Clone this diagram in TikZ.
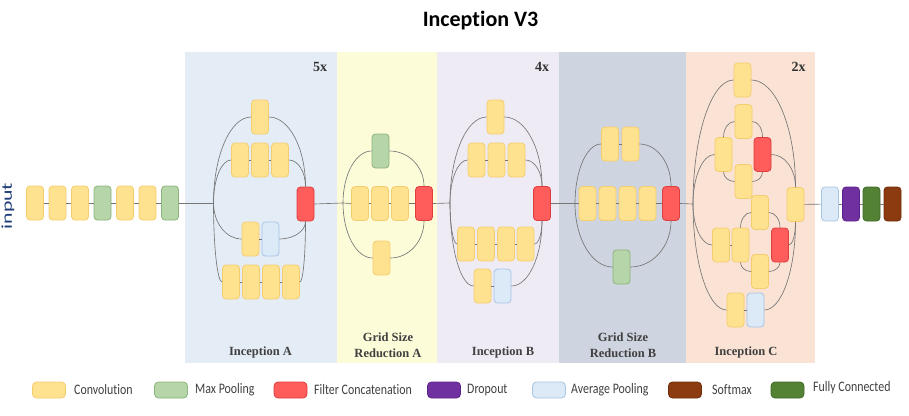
\documentclass[tikz,border=0pt]{standalone}
\usepackage{fontspec}
\setmainfont{Carlito}[Ligatures=NoCommon]
\newfontfamily\serifF{Liberation Serif}
\usepackage{graphicx}
\usetikzlibrary{calc}
\definecolor{convF}{RGB}{255,226,143}
\definecolor{convD}{RGB}{244,206,110}
\definecolor{mpF}{RGB}{182,213,168}
\definecolor{mpD}{RGB}{140,180,122}
\definecolor{redF}{RGB}{255,92,92}
\definecolor{redD}{RGB}{222,62,62}
\definecolor{avgF}{RGB}{220,233,247}
\definecolor{avgD}{RGB}{168,196,228}
\definecolor{drF}{RGB}{112,48,160}
\definecolor{drD}{RGB}{92,34,138}
\definecolor{fcF}{RGB}{84,130,53}
\definecolor{fcD}{RGB}{62,104,40}
\definecolor{smF}{RGB}{140,58,16}
\definecolor{smD}{RGB}{110,44,10}
\definecolor{lnC}{RGB}{118,118,118}
\definecolor{pAc}{RGB}{228,236,246}
\definecolor{pBc}{RGB}{253,252,217}
\definecolor{pCc}{RGB}{239,235,245}
\definecolor{pDc}{RGB}{206,212,224}
\definecolor{pEc}{RGB}{250,226,212}
\definecolor{labC}{RGB}{64,64,64}
\definecolor{inC}{RGB}{30,60,120}
\begin{document}
\begin{tikzpicture}[x=1pt,y=-1pt,
  blk/.style={rounded corners=3.5pt, minimum width=17pt, minimum height=34pt, inner sep=0pt, line width=0.8pt},
  conv/.style={blk, fill=convF, draw=convD},
  mp/.style={blk, fill=mpF, draw=mpD},
  cat/.style={blk, fill=redF, draw=redD},
  avg/.style={blk, fill=avgF, draw=avgD},
  drp/.style={blk, fill=drF, draw=drD},
  fc/.style={blk, fill=fcF, draw=fcD},
  smx/.style={blk, fill=smF, draw=smD},
  lgbox/.style={minimum width=33pt, minimum height=16pt, rounded corners=4pt},
  ln/.style={draw=lnC, line width=0.65pt},
  vh/.style={to path={.. controls ($(\tikztostart)!0.552!(\tikztostart|-\tikztotarget)$) and ($(\tikztotarget)!0.552!(\tikztostart|-\tikztotarget)$) .. (\tikztotarget)}},
  hv/.style={to path={.. controls ($(\tikztostart)!0.552!(\tikztotarget|-\tikztostart)$) and ($(\tikztotarget)!0.552!(\tikztotarget|-\tikztostart)$) .. (\tikztotarget)}},
  lgtxt/.style={anchor=west, inner sep=0pt, text=labC, font=\fontsize{14.5}{16}\selectfont},
  plab/.style={text=labC, align=center, inner sep=0pt, font=\serifF\bfseries\fontsize{12.5}{16}\selectfont},
  rep/.style={text=black!80, inner sep=0pt, font=\serifF\bfseries\fontsize{14}{16}\selectfont}
]
\useasboundingbox (0,0) rectangle (909,415);
\fill[white] (0,0) rectangle (909,415);
% panels
\fill[pAc] (185,52) rectangle (337,363);
\fill[pBc] (337,52) rectangle (437,363);
\fill[pCc] (437,52) rectangle (559,363);
\fill[pDc] (559,52) rectangle (686,363);
\fill[pEc] (686,52) rectangle (815,363);
% title and labels
\node[inner sep=0pt, font=\bfseries\fontsize{22}{26}\selectfont] (title) at (480.5,20.5) {Inception V3};
\node[rotate=90, inner sep=0pt, text=inC, font=\fontsize{15}{16}\selectfont] (inp) at (8,206) {\scalebox{1.45}[1]{input}};
\node[plab] (labA) at (260.5,352) {Inception A};
\node[plab] (labB) at (388,345) {Grid Size\\Reduction A};
\node[plab] (labC) at (503,352) {Inception B};
\node[plab] (labD) at (623,345) {Grid Size\\Reduction B};
\node[plab] (labE) at (746,352) {Inception C};
\node[rep] (repA) at (320,67) {5x};
\node[rep] (repC) at (542,67) {4x};
\node[rep] (repE) at (798.5,67) {2x};
% input stem
\node[conv] (i1) at (35,203) {};
\node[conv] (i2) at (57.5,203) {};
\node[conv] (i3) at (80,203) {};
\node[mp]   (i4) at (102.5,203) {};
\node[conv] (i5) at (125,203) {};
\node[conv] (i6) at (147.5,203) {};
\node[mp]   (i7) at (170,203) {};
% Inception A
\coordinate (jA) at (213.5,203);
\node[conv] (a1) at (260,117) {};
\node[conv] (a21) at (240,160) {};
\node[conv] (a22) at (260,160) {};
\node[conv] (a23) at (280,160) {};
\node[conv] (a31) at (250.5,239) {};
\node[avg]  (a32) at (270.5,239) {};
\node[conv] (a41) at (231,282) {};
\node[conv] (a42) at (251,282) {};
\node[conv] (a43) at (271,282) {};
\node[conv] (a44) at (291,282) {};
\node[cat]  (aR) at (305.5,204) {};
% Grid size reduction A
\coordinate (jB) at (343,203);
\node[mp]   (g1) at (380.5,151) {};
\node[conv] (g21) at (360,203.5) {};
\node[conv] (g22) at (380,203.5) {};
\node[conv] (g23) at (400,203.5) {};
\node[cat]  (gR) at (424,203.5) {};
\node[conv] (g3) at (381.5,258) {};
% Inception B
\coordinate (jC) at (450,203);
\node[conv] (b1) at (495.5,117) {};
\node[conv] (b21) at (476.5,160) {};
\node[conv] (b22) at (496.5,160) {};
\node[conv] (b23) at (516.5,160) {};
\node[cat]  (bR) at (542,203.5) {};
\node[conv] (b31) at (466,244) {};
\node[conv] (b32) at (486,244) {};
\node[conv] (b33) at (506,244) {};
\node[conv] (b34) at (525.5,244) {};
\node[conv] (b41) at (482.5,286) {};
\node[avg]  (b42) at (502.5,286) {};
% Grid size reduction B
\coordinate (jD) at (575,203.5);
\node[conv] (r1) at (610,144) {};
\node[conv] (r2) at (630.5,144) {};
\node[conv] (r31) at (587.5,203.5) {};
\node[conv] (r32) at (607.5,203.5) {};
\node[conv] (r33) at (627.5,203.5) {};
\node[conv] (r34) at (647.5,203.5) {};
\node[cat]  (rR) at (671,203.5) {};
\node[mp]   (r4) at (621.5,267) {};
% Inception C
\coordinate (jE) at (693,204);
\node[conv] (c1) at (742.5,80) {};
\node[conv] (c2) at (743.5,121.5) {};
\node[conv] (c3) at (723.5,154.5) {};
\node[cat]  (cR1) at (762.5,154.5) {};
\node[conv] (c4) at (743.5,181.5) {};
\node[conv] (cO) at (795.5,204.5) {};
\node[conv] (c5) at (760,212.5) {};
\node[conv] (c61) at (721,245) {};
\node[conv] (c62) at (740.5,245) {};
\node[cat]  (cR2) at (780,245) {};
\node[conv] (c7) at (760,271.5) {};
\node[conv] (c81) at (735.5,310) {};
\node[avg]  (c82) at (755.5,310) {};
% head
\node[avg] (f1) at (830,204) {};
\node[drp] (f2) at (851,204) {};
\node[fc]  (f3) at (871.5,204) {};
\node[smx] (f4) at (892.5,204) {};
% connectors: stem
\draw[ln] (i1) -- (i2);
\draw[ln] (i2) -- (i3);
\draw[ln] (i3) -- (i4);
\draw[ln] (i4) -- (i5);
\draw[ln] (i5) -- (i6);
\draw[ln] (i6) -- (i7);
\draw[ln] (i7.east) -- (jA);
% Inception A
\draw[ln] (jA) to[vh] (a1.west);
\draw[ln] (a1.east) to[hv] (aR.north);
\draw[ln] (jA) to[vh] (a21.west);
\draw[ln] (a21) -- (a22);
\draw[ln] (a22) -- (a23);
\draw[ln] (a23.east) to[hv] (aR.north);
\draw[ln] (jA) to[vh] (a31.west);
\draw[ln] (a31) -- (a32);
\draw[ln] (a32.east) to[hv] (aR.south);
\draw[ln] (jA) to[vh] (a41.west);
\draw[ln] (a41) -- (a42);
\draw[ln] (a42) -- (a43);
\draw[ln] (a43) -- (a44);
\draw[ln] (a44.east) to[hv] (aR.south);
\draw[ln] (aR.east) -- (jB);
% GSR A
\draw[ln] (jB) -- (g21.west);
\draw[ln] (g21) -- (g22);
\draw[ln] (g22) -- (g23);
\draw[ln] (g23) -- (gR);
\draw[ln] (jB) to[vh] (g1.west);
\draw[ln] (g1.east) to[hv] (gR.north);
\draw[ln] (jB) to[vh] (g3.west);
\draw[ln] (g3.east) to[hv] (gR.south);
\draw[ln] (gR.east) -- (jC);
% Inception B
\draw[ln] (jC) to[vh] (b1.west);
\draw[ln] (b1.east) to[hv] (bR.north);
\draw[ln] (jC) to[vh] (b21.west);
\draw[ln] (b21) -- (b22);
\draw[ln] (b22) -- (b23);
\draw[ln] (b23.east) to[hv] (bR.north);
\draw[ln] (jC) to[vh] (b31.west);
\draw[ln] (b31) -- (b32);
\draw[ln] (b32) -- (b33);
\draw[ln] (b33) -- (b34);
\draw[ln] (b34.east) to[hv] (bR.south);
\draw[ln] (jC) to[vh] (b41.west);
\draw[ln] (b41) -- (b42);
\draw[ln] (b42.east) to[hv] (bR.south);
\draw[ln] (bR.east) -- (jD);
% GSR B
\draw[ln] (jD) -- (r31.west);
\draw[ln] (r31) -- (r32);
\draw[ln] (r32) -- (r33);
\draw[ln] (r33) -- (r34);
\draw[ln] (r34) -- (rR);
\draw[ln] (jD) to[vh] (r1.west);
\draw[ln] (r1) -- (r2);
\draw[ln] (r2.east) to[hv] (rR.north);
\draw[ln] (jD) to[vh] (r4.west);
\draw[ln] (r4.east) to[hv] (rR.south);
\draw[ln] (rR.east) -- (jE);
% Inception C
\draw[ln] (jE) to[vh] (c1.west);
\draw[ln] (c1.east) to[hv] (cO.north);
\draw[ln] (jE) to[vh] (c3.west);
\draw[ln] (c3.north) to[vh] (c2.west);
\draw[ln] (c2.east) to[hv] (cR1.north);
\draw[ln] (c3.south) to[vh] (c4.west);
\draw[ln] (c4.east) to[hv] (cR1.south);
\draw[ln] (cR1.east) to[hv] (cO.north);
\draw[ln] (jE) to[vh] (c61.west);
\draw[ln] (c61) -- (c62);
\draw[ln] (c62.north) to[vh] (c5.west);
\draw[ln] (c5.east) to[hv] (cR2.north);
\draw[ln] (c62.south) to[vh] (c7.west);
\draw[ln] (c7.east) to[hv] (cR2.south);
\draw[ln] (cR2.east) to[hv] (cO.south);
\draw[ln] (jE) to[vh] (c81.west);
\draw[ln] (c81) -- (c82);
\draw[ln] (c82.east) to[hv] (cO.south);
% head
\draw[ln] (cO) -- (f1);
\draw[ln] (f1) -- (f2);
\draw[ln] (f2) -- (f3);
\draw[ln] (f3) -- (f4);
% legend
\node[conv, lgbox] (lg1) at (49,390) {};
\node[lgtxt] (lt1) at (74,390) {\scalebox{0.82}[1]{Convolution}};
\node[mp, lgbox] (lg2) at (171,390) {};
\node[lgtxt] (lt2) at (195,390) {\scalebox{0.82}[1]{Max Pooling}};
\node[cat, lgbox] (lg3) at (290.5,390) {};
\node[lgtxt] (lt3) at (314,390) {\scalebox{0.82}[1]{Filter Concatenation}};
\node[drp, lgbox] (lg4) at (444,390) {};
\node[lgtxt] (lt4) at (467,390) {\scalebox{0.82}[1]{Dropout}};
\node[avg, lgbox] (lg5) at (549,390) {};
\node[lgtxt] (lt5) at (571,390) {\scalebox{0.82}[1]{Average Pooling}};
\node[smx, lgbox] (lg6) at (685,390) {};
\node[lgtxt] (lt6) at (712,390) {\scalebox{0.82}[1]{Softmax}};
\node[fc, lgbox] (lg7) at (787.5,390) {};
\node[lgtxt] (lt7) at (813,388) {\scalebox{0.82}[1]{Fully Connected}};
\end{tikzpicture}
\end{document}
